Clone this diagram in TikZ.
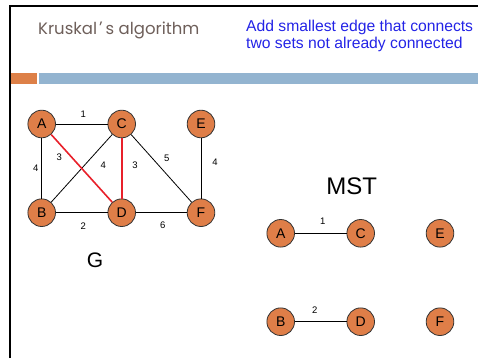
\documentclass[tikz,border=0pt]{standalone}
\usepackage{fontspec}
\setmainfont{Liberation Sans}
\newfontfamily\titlefont{Poppins}
\definecolor{nodeorange}{HTML}{DF7E48}
\definecolor{barblue}{HTML}{93B4D0}
\definecolor{barorange}{HTML}{DD8048}
\definecolor{titlegray}{HTML}{6E5F5A}
\definecolor{textblue}{HTML}{2323E6}
\definecolor{edgered}{HTML}{E8202A}
\begin{document}
\begin{tikzpicture}[x=1pt,y=-1pt,
  vtx/.style={circle,fill=nodeorange,draw=black!80,line width=0.8pt,minimum size=27.6pt,inner sep=0pt,font=\fontsize{14}{14}\selectfont},
  wlabel/.style={font=\fontsize{9.5}{10}\selectfont,inner sep=0pt},
  edge/.style={draw=black,line width=0.8pt},
  redge/.style={draw=edgered,line width=1.6pt}]
\useasboundingbox (0,0) rectangle (478,358);
% frame
\draw[line width=2.2pt] (9.6,358) -- (9.6,6) -- (478,6);
\fill[barorange] (11,73) rectangle (37,84);
\fill[barblue] (39,73) rectangle (478,84);
% title
\node[anchor=base west,inner sep=0pt,text=titlegray,font=\titlefont\fontsize{16.5}{17}\selectfont] (title) at (38,34.3) {Kruskal\kern2pt\raisebox{1pt}{’}\kern3pt s algorithm};
\node[anchor=north west,inner sep=0pt,text=textblue,align=left,font=\fontsize{15.7}{17}\selectfont] (note) at (246,20) {Add smallest edge that connects\\two sets not already connected};
% graph G
\node[vtx] (A) at (41.7,124) {A};
\node[vtx] (C) at (121.7,124) {C};
\node[vtx] (E) at (201,124) {E};
\node[vtx] (B) at (41.7,212.7) {B};
\node[vtx] (D) at (121.7,212.7) {D};
\node[vtx] (F) at (201,212.7) {F};
\path[edge] (A) -- (C);
\path[edge] (A) -- (B);
\path[edge] (B) -- (C);
\path[edge] (C) -- (F);
\path[edge] (E) -- (F);
\path[edge] (B) -- (D);
\path[edge] (D) -- (F);
\path[redge] (A) -- (D);
\path[redge] (C) -- (D);
\node[wlabel] (l1) at (83.3,114) {1};
\node[wlabel] (l2) at (35.7,168.3) {4};
\node[wlabel] (l3) at (59.3,157.3) {3};
\node[wlabel] (l4) at (103.3,165.7) {4};
\node[wlabel] (l5) at (135,165.7) {3};
\node[wlabel] (l6) at (166.7,158.3) {5};
\node[wlabel] (l7) at (215,162.3) {4};
\node[wlabel] (l8) at (83.3,225.7) {2};
\node[wlabel] (l9) at (162.7,225.7) {6};
\node[font=\fontsize{21}{21}\selectfont,inner sep=0pt] (G) at (95,260) {G};
% MST
\node[font=\fontsize{24}{24}\selectfont,inner sep=0pt] (mst) at (351.7,186.7) {MST};
\node[vtx] (mA) at (280.7,233.3) {A};
\node[vtx] (mC) at (360.7,233.3) {C};
\node[vtx] (mE) at (440,233.3) {E};
\node[vtx] (mB) at (280.7,321.7) {B};
\node[vtx] (mD) at (360.7,321.7) {D};
\node[vtx] (mF) at (440,321.7) {F};
\path[edge] (mA) -- (mC);
\path[edge] (mB) -- (mD);
\node[wlabel] (m1) at (322.7,221.7) {1};
\node[wlabel] (m2) at (314.7,310) {2};
\end{tikzpicture}
\end{document}
